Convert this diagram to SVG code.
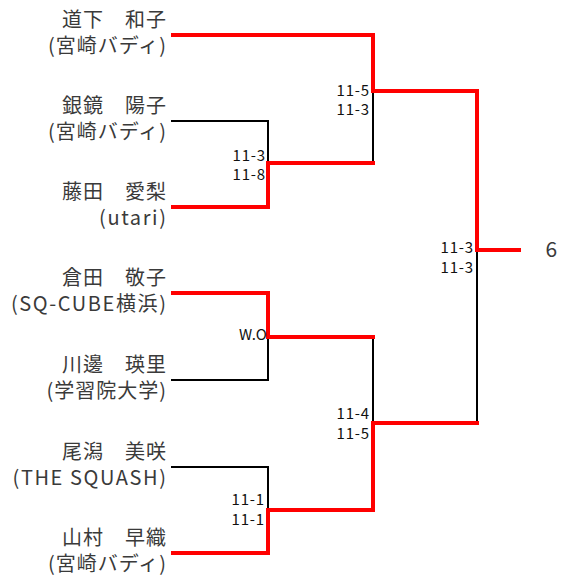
<svg xmlns="http://www.w3.org/2000/svg" width="573" height="580" viewBox="0 0 573 580">
<style>
.nm{font-family:"Noto Sans CJK JP","Noto Sans",sans-serif;font-size:20px;letter-spacing:1px;fill:#3a3a3a;text-anchor:end}
.lat{letter-spacing:1.6px}
.sc{font-family:"Noto Sans CJK JP","Noto Sans",sans-serif;font-size:15px;letter-spacing:0.8px;fill:#111111;text-anchor:end}
.win{fill:none;stroke:#ff0000;stroke-width:4;stroke-linecap:square;stroke-linejoin:miter}
.lose{fill:none;stroke:#000000;stroke-width:2;stroke-linecap:butt}
.res{font-family:"Noto Sans CJK JP","Noto Sans",sans-serif;font-size:21px;fill:#3a3a3a}
</style>
<rect width="573" height="580" fill="#ffffff"/>
<g id="connectors">
<path class="lose" d="M171,121 H268 V163"/>
<path class="lose" d="M171,380 H268 V337"/>
<path class="lose" d="M171,467 H268 V510"/>
<path class="lose" d="M373,91 V163"/>
<path class="lose" d="M373,337 V423"/>
<path class="lose" d="M477,250 V423"/>
<path class="win" d="M173,35 H373 V91 H477 V250 H519"/>
<path class="win" d="M173,207 H268 V163 H373"/>
<path class="win" d="M173,293 H268 V337 H373"/>
<path class="win" d="M173,553 H268 V510 H373 V423 H477"/>
</g>
<g id="p1"><text class="nm" x="167" y="26.5">道下　和子</text><text class="nm" x="167" y="53">(宮崎バディ)</text></g>
<g id="p2"><text class="nm" x="167" y="112.5">銀鏡　陽子</text><text class="nm" x="167" y="139">(宮崎バディ)</text></g>
<g id="p3"><text class="nm" x="167" y="198.5">藤田　愛梨</text><text class="nm lat" x="167.5" y="225">(utari)</text></g>
<g id="p4"><text class="nm" x="167" y="284.5">倉田　敬子</text><text class="nm lat" x="167.5" y="311">(SQ-CUBE横浜)</text></g>
<g id="p5"><text class="nm" x="167" y="371.5">川邊　瑛里</text><text class="nm" x="167" y="398">(学習院大学)</text></g>
<g id="p6"><text class="nm" x="167" y="458.5">尾潟　美咲</text><text class="nm lat" x="167.5" y="485">(THE SQUASH)</text></g>
<g id="p7"><text class="nm" x="167" y="544.5">山村　早織</text><text class="nm" x="167" y="571">(宮崎バディ)</text></g>
<g id="m1"><text class="sc" x="266" y="160.5">11-3</text><text class="sc" x="266" y="179.5">11-8</text></g>
<g id="m2"><text class="sc" x="267" y="340" style="letter-spacing:0">W.O</text></g>
<g id="m3"><text class="sc" x="265" y="505">11-1</text><text class="sc" x="265" y="525">11-1</text></g>
<g id="m4"><text class="sc" x="370" y="95.5">11-5</text><text class="sc" x="370" y="115">11-3</text></g>
<g id="m5"><text class="sc" x="370" y="419">11-4</text><text class="sc" x="370" y="439">11-5</text></g>
<g id="m6"><text class="sc" x="474" y="252.5">11-3</text><text class="sc" x="474" y="272.5">11-3</text></g>
<g id="final"><text class="res" x="545.5" y="257">6</text></g>
</svg>
